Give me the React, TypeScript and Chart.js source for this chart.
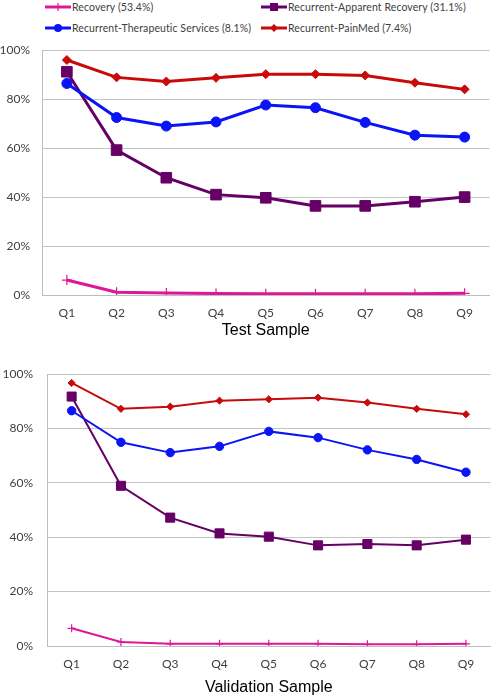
import React, { useEffect, useRef } from "react";
import { Chart, registerables } from "chart.js";

Chart.register(...registerables);

const categories = ["Q1", "Q2", "Q3", "Q4", "Q5", "Q6", "Q7", "Q8", "Q9"];
const seriesNames = [
  "Recovery (53.4%)",
  "Recurrent-Apparent Recovery (31.1%)",
  "Recurrent-Therapeutic Services (8.1%)",
  "Recurrent-PainMed (7.4%)",
];
const seriesColors = ["#E0169A", "#660066", "#0A14F5", "#C80A0A"];
const seriesMarkers = ["cross", "rect", "circle", "rectRot"];

const testRecovery = [6.1, 1.1, 0.8, 0.6, 0.5, 0.5, 0.5, 0.5, 0.7];
const testApparent = [91.2, 59.2, 47.9, 41.0, 39.7, 36.4, 36.4, 38.1, 40.0];
const testTherapeutic = [86.4, 72.5, 69.0, 70.7, 77.6, 76.5, 70.5, 65.3, 64.5];
const testPainMed = [96.0, 88.9, 87.2, 88.7, 90.2, 90.2, 89.7, 86.7, 84.0];

const validRecovery = [6.5, 1.5, 0.8, 0.8, 0.8, 0.8, 0.6, 0.6, 0.8];
const validApparent = [91.7, 58.9, 47.2, 41.4, 40.2, 37.0, 37.5, 37.0, 39.1];
const validTherapeutic = [86.5, 74.9, 71.1, 73.4, 78.9, 76.6, 72.1, 68.6, 63.9];
const validPainMed = [96.7, 87.2, 88.0, 90.2, 90.7, 91.3, 89.5, 87.2, 85.2];

const yTickValues = [0, 20, 40, 60, 80, 100];

const labelFont = "Lato, 'Open Sans', sans-serif";

type ChartProps = {
  series: number[][];
  title: string;
  top: number;
  height: number;
  padTop: number;
  yAxisWidth: number;
  yTickPad: number;
  xAxisHeight: number;
  titlePadBottom: number;
  padRight: number;
  lineWidth: number;
  radii: number[];
};

function LineChart(p: ChartProps) {
  const ref = useRef<HTMLCanvasElement | null>(null);
  useEffect(() => {
    if (!ref.current) return;
    const chart = new Chart(ref.current, {
      type: "line",
      data: {
        labels: categories,
        datasets: p.series.map((vals, i) => ({
          label: seriesNames[i],
          data: vals,
          borderColor: seriesColors[i],
          backgroundColor: seriesColors[i],
          pointBackgroundColor: seriesColors[i],
          pointBorderColor: seriesColors[i],
          pointStyle: seriesMarkers[i] as any,
          pointRadius: p.radii[i],
          pointBorderWidth: i === 0 ? 1.2 : 1,
          borderWidth: p.lineWidth,
          tension: 0,
          order: 3 - i,
        })),
      },
      options: {
        animation: false,
        responsive: false,
        maintainAspectRatio: false,
        layout: { padding: { top: p.padTop, right: p.padRight, left: 0, bottom: 0 } },
        plugins: { legend: { display: false }, tooltip: { enabled: false } },
        scales: {
          x: {
            offset: true,
            grid: { display: false, drawTicks: false },
            border: { display: true, color: "#bdbdbd", width: 1 },
            ticks: {
              color: "#404040",
              padding: 11,
              font: { family: labelFont, size: 12 },
            },
            title: {
              display: true,
              text: p.title,
              color: "#000",
              font: { family: "'Liberation Sans', Arial, sans-serif", size: 16 },
              padding: { top: 2, bottom: p.titlePadBottom },
            },
            afterFit: (axis: any) => {
              axis.height = p.xAxisHeight;
            },
          },
          y: {
            min: 0,
            max: 100,
            afterBuildTicks: (axis: any) => {
              axis.ticks = yTickValues.map((v) => ({ value: v }));
            },
            grid: { color: "#c4c4c4", lineWidth: 1, drawTicks: false },
            border: { display: true, color: "#bdbdbd", width: 1 },
            ticks: {
              color: "#404040",
              padding: p.yTickPad,
              font: { family: labelFont, size: 12 },
              callback: (v: any) => v + "%",
            },
            afterFit: (axis: any) => {
              axis.width = p.yAxisWidth;
            },
          },
        },
      },
    });
    return () => chart.destroy();
  }, []);
  return (
    <canvas
      ref={ref}
      width={498}
      height={p.height}
      style={{ position: "absolute", left: 0, top: p.top, width: 498, height: p.height }}
    />
  );
}

function Marker({ i }: { i: number }) {
  const c = seriesColors[i];
  const m = seriesMarkers[i];
  let shape: any = null;
  if (m === "cross")
    shape = <line x1={13} y1={3} x2={13} y2={11} stroke={c} strokeWidth={1.2} />;
  else if (m === "rect") shape = <rect x={9} y={3} width={8} height={8} fill={c} />;
  else if (m === "circle") shape = <circle cx={13} cy={7} r={4} fill={c} />;
  else shape = <polygon points="13,3 17,7 13,11 9,7" fill={c} />;
  return (
    <svg width={26} height={14} style={{ position: "absolute", left: 0, top: 0 }}>
      <line x1={0} y1={7} x2={26} y2={7} stroke={c} strokeWidth={3} />
      {shape}
    </svg>
  );
}

function Legend() {
  const pos = [
    [45, 0],
    [261, 0],
    [45, 21],
    [261, 21],
  ];
  return (
    <>
      {seriesNames.map((name, i) => (
        <div
          key={name}
          style={{
            position: "absolute",
            left: pos[i][0],
            top: pos[i][1],
            height: 14,
            paddingLeft: 27,
            fontFamily: labelFont,
            fontSize: 10.5,
            letterSpacing: "0.1px",
            lineHeight: "14px",
            color: "#404040",
            whiteSpace: "nowrap",
          }}
        >
          <Marker i={i} />
          {name}
        </div>
      ))}
    </>
  );
}

export default function App() {
  return (
    <div
      style={{
        position: "absolute",
        left: 0,
        top: 0,
        width: 498,
        height: 697,
        background: "#fff",
        overflow: "hidden",
      }}
    >
      <Legend />
      <LineChart
        series={[validRecovery, validApparent, validTherapeutic, validPainMed]}
        title="Validation Sample"
        top={350}
        height={347}
        padTop={24}
        yAxisWidth={47}
        yTickPad={14}
        xAxisHeight={51}
        titlePadBottom={0}
        padRight={3}
        lineWidth={2}
        radii={[4, 6.4, 4.2, 3.6]}
      />
      <LineChart
        series={[testRecovery, testApparent, testTherapeutic, testPainMed]}
        title="Test Sample"
        top={31}
        height={311}
        padTop={10}
        yAxisWidth={42}
        yTickPad={12}
        xAxisHeight={47}
        titlePadBottom={2}
        padRight={2}
        lineWidth={3}
        radii={[5, 7.5, 5, 4.5]}
      />
    </div>
  );
}
